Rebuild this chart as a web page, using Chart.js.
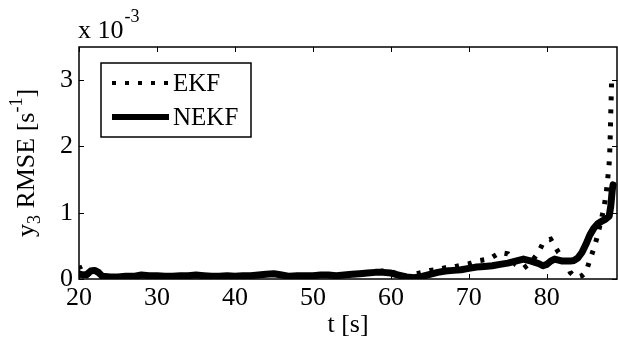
<!DOCTYPE html>
<html>
<head>
<meta charset="utf-8">
<script src="https://cdn.jsdelivr.net/npm/chart.js@4.4.1/dist/chart.umd.min.js"></script>
<style>
html,body{margin:0;padding:0;background:#fff;}
#wrap{width:618px;height:339px;position:relative;}
</style>
</head>
<body>
<div id="wrap"><canvas id="c" width="618" height="339"></canvas></div>
<script>
// ---- data (values in units of 1e-3 s^-1) ----
const ekfT = [20,20.5,21,21.5,22,22.5,23,25,27,29,31,33,35,37,39,41,43,45,47,49,51,53,55,57,59,60,61,62,63,64,65,66,67,68,69,70,71,72,73,74,75,76,77,78,79,79.5,80,80.5,81,81.5,82,82.5,83,83.5,84,84.5,85,85.5,86,86.4,86.9,87.3,87.6,87.8,88.0,88.1,88.2,88.3];
const ekfV = [0.2,0.08,0.05,0.1,0.14,0.08,0.03,0.03,0.05,0.04,0.03,0.04,0.06,0.03,0.04,0.05,0.05,0.09,0.03,0.04,0.05,0.05,0.06,0.09,0.12,0.11,0.07,0.03,0.07,0.1,0.13,0.14,0.17,0.18,0.21,0.23,0.27,0.29,0.33,0.4,0.38,0.22,0.16,0.25,0.42,0.54,0.58,0.6,0.5,0.4,0.34,0.25,0.1,0.04,0.03,0.05,0.1,0.28,0.45,0.61,0.85,1.06,1.28,1.5,1.75,2.0,2.5,2.95];
const nekfT = [20,20.5,21,21.5,22,22.5,23,24,25,26,27,28,29,30,31,32,33,34,35,36,37,38,39,40,41,42,43,44,45,46,47,48,49,50,51,52,53,54,55,56,57,58,59,60,61,62,63,64,65,66,67,68,69,70,71,72,73,74,75,76,77,78,79,79.5,80,80.5,81,82,83,83.5,84,84.5,85,85.5,86,86.5,87,87.5,88,88.2,88.4,88.5];
const nekfV = [0.08,0.06,0.07,0.12,0.13,0.1,0.04,0.03,0.03,0.04,0.04,0.06,0.05,0.05,0.04,0.04,0.05,0.05,0.06,0.05,0.04,0.04,0.05,0.04,0.05,0.05,0.06,0.07,0.08,0.06,0.04,0.05,0.05,0.05,0.06,0.06,0.05,0.06,0.07,0.08,0.09,0.1,0.1,0.09,0.06,0.03,0.02,0.04,0.07,0.1,0.12,0.13,0.14,0.16,0.18,0.19,0.2,0.22,0.24,0.27,0.3,0.27,0.23,0.2,0.22,0.27,0.3,0.27,0.27,0.28,0.32,0.4,0.52,0.66,0.76,0.83,0.87,0.9,0.95,1.1,1.35,1.42];
const xTicks = [20,30,40,50,60,70,80];
const yTicks = [0,1,2,3];
const seriesNames = ['EKF','NEKF'];
const xTitle = 't [s]';

const SERIF = "'Liberation Serif','Times New Roman',serif";
const toXY = (t,v) => t.map((x,i)=>({x:x,y:v[i]}));

const deco = {
  id:'deco',
  afterDraw(chart){
    const ctx = chart.ctx, a = chart.chartArea;
    const xs = chart.scales.x, ys = chart.scales.y;
    ctx.save();
    // box
    ctx.strokeStyle = '#000'; ctx.lineWidth = 1.5;
    ctx.strokeRect(a.left, a.top, a.right-a.left, a.bottom-a.top);
    // inward ticks
    const L = 5;
    ctx.lineWidth = 1;
    ctx.beginPath();
    xTicks.forEach(v=>{
      const p = Math.round(xs.getPixelForValue(v))+0.5;
      ctx.moveTo(p,a.bottom); ctx.lineTo(p,a.bottom-L);
      ctx.moveTo(p,a.top); ctx.lineTo(p,a.top+L);
    });
    yTicks.forEach(v=>{
      const p = Math.round(ys.getPixelForValue(v))+0.5;
      ctx.moveTo(a.left,p); ctx.lineTo(a.left+L,p);
      ctx.moveTo(a.right,p); ctx.lineTo(a.right-L,p);
    });
    ctx.stroke();

    ctx.fillStyle = '#000';
    // exponent label
    ctx.textBaseline = 'alphabetic'; ctx.textAlign = 'left';
    ctx.font = '26px ' + SERIF;
    ctx.fillText('x 10', 78, 38);
    let w = ctx.measureText('x 10').width;
    ctx.font = '18px ' + SERIF;
    ctx.fillText('-3', 78 + w + 1, 22);

    // x title
    ctx.font = '26px ' + SERIF;
    ctx.textAlign = 'center';
    ctx.fillText(xTitle, (a.left+a.right)/2, 332);

    // y title (rotated) with subscript & superscript
    ctx.save();
    const cy = (a.top + a.bottom)/2;
    ctx.translate(34, cy);
    ctx.rotate(-Math.PI/2);
    const parts = [
      {t:'y', f:26, dy:0},
      {t:'3', f:18, dy:6},
      {t:' RMSE [s', f:26, dy:0},
      {t:'-1', f:18, dy:-12},
      {t:']', f:26, dy:0}
    ];
    let total = 0;
    parts.forEach(p=>{ ctx.font = p.f+'px '+SERIF; p.w = ctx.measureText(p.t).width; total += p.w; });
    let x0 = -total/2;
    ctx.textAlign = 'left';
    parts.forEach(p=>{ ctx.font = p.f+'px '+SERIF; ctx.fillText(p.t, x0, p.dy); x0 += p.w; });
    ctx.restore();

    // legend
    const bx = 101, by = 63, bw = 150, bh = 74;
    ctx.fillStyle = '#fff';
    ctx.fillRect(bx, by, bw, bh);
    ctx.strokeStyle = '#000'; ctx.lineWidth = 1.5;
    ctx.strokeRect(bx, by, bw, bh);
    const ds = chart.data.datasets;
    const rows = [83, 117];
    const legW = [4, 6];
    ds.forEach((d,i)=>{
      ctx.save();
      ctx.strokeStyle = d.borderColor;
      ctx.lineWidth = legW[i];
      ctx.lineCap = 'butt';
      ctx.setLineDash(d.borderDash || []);
      ctx.beginPath();
      ctx.moveTo(112, rows[i]); ctx.lineTo(169, rows[i]);
      ctx.stroke();
      ctx.restore();
      ctx.fillStyle = '#000';
      ctx.font = '25px ' + SERIF;
      ctx.textAlign = 'left'; ctx.textBaseline = 'middle';
      ctx.fillText(d.label, 173, rows[i]+1);
    });
    ctx.restore();
  }
};

new Chart(document.getElementById('c'), {
  type: 'line',
  data: {
    datasets: [
      { label: seriesNames[0], data: toXY(ekfT, ekfV), borderColor:'#000', borderWidth:5,
        borderDash:[4,9], borderCapStyle:'butt', pointRadius:0, tension:0, fill:false },
      { label: seriesNames[1], data: toXY(nekfT, nekfV), borderColor:'#000', borderWidth:7,
        pointRadius:0, tension:0, fill:false, borderJoinStyle:'round', borderCapStyle:'round' }
    ]
  },
  options: {
    responsive:false, animation:false, devicePixelRatio:1,
    layout:{ padding:{ top:47, right:1, left:0, bottom:0 } },
    plugins:{ legend:{display:false}, tooltip:{enabled:false} },
    scales:{
      x:{ type:'linear', min:20, max:89,
        afterBuildTicks: s => { s.ticks = xTicks.map(v=>({value:v})); },
        afterFit: s => { s.height = 60; },
        grid:{display:false, drawTicks:false}, border:{display:false},
        ticks:{ color:'#000', font:{family:SERIF, size:26}, padding:4, maxRotation:0, autoSkip:false }
      },
      y:{ type:'linear', min:0, max:3.5,
        afterBuildTicks: s => { s.ticks = yTicks.map(v=>({value:v})); },
        afterFit: s => { s.width = 79; },
        grid:{display:false, drawTicks:false}, border:{display:false},
        ticks:{ color:'#000', font:{family:SERIF, size:26}, padding:6, autoSkip:false }
      }
    }
  },
  plugins:[deco]
});
</script>
</body>
</html>
